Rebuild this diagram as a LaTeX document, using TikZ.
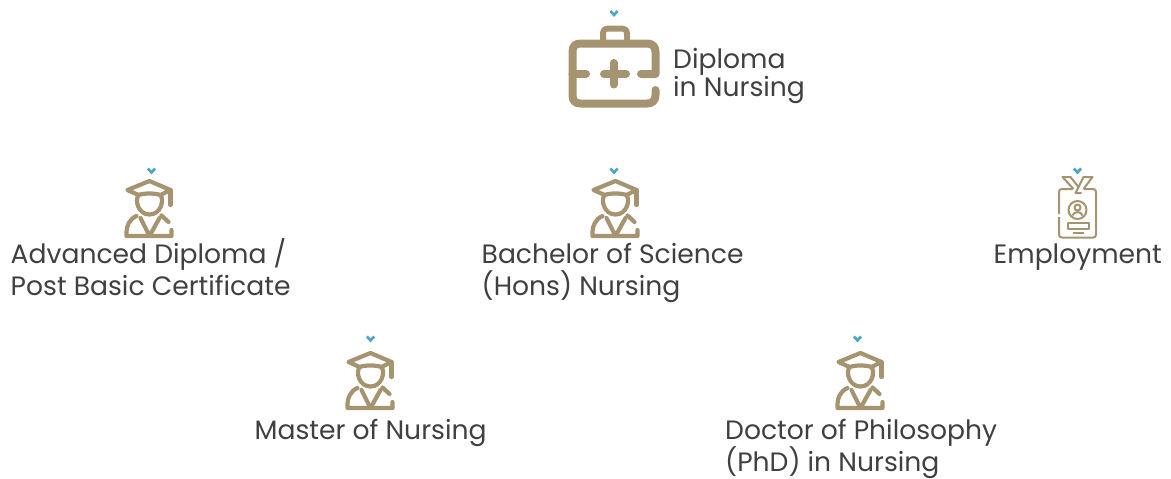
\documentclass[tikz,border=0pt]{standalone}
\usepackage{fontspec}
\setmainfont{Poppins}
\usepackage{xcolor}
\definecolor{icontan}{HTML}{A69470}
\definecolor{tickblue}{HTML}{4BA6C6}
\definecolor{ink}{HTML}{404040}
\usetikzlibrary{positioning}
\tikzset{
    caption/.style={text=ink, font=\fontsize{26.6}{32}\selectfont, align=left, inner sep=0pt, anchor=north west},
    tightcaption/.style={caption, font=\fontsize{26.6}{25}\selectfont},
    tickmark/.pic={\draw[tickblue, line width=2.6pt, line cap=butt, line join=miter] (-3.6,-3) -- (0,1) -- (3.6,-3);},
    grad/.pic={
        \begin{scope}[icontan, line width=4.2pt, line cap=round, line join=round]
            % Cap
            \draw (-11,15) -- (-22,10) -- (0,1) -- (21,10) -- (11,15);
            \draw (-11,15) .. controls (-5,13) and (5,13) .. (11,15);
            \draw (21,10) -- (21,25);
            % Head
            \draw (-11,15) .. controls (-15,21) and (-11,34.5) .. (0,34.5) .. controls (11,34.5) and (15,21) .. (11,15);
            % Body
            \draw (-13,36) .. controls (-20,39) and (-23,46) .. (-23,52) -- (-23,56) -- (22,56) -- (22,50);
            \draw (12,35.5) -- (19,42);
            \draw (-9,38) -- (0,56) -- (10,38);
        \end{scope}
    },
    badge/.pic={
        \begin{scope}[icontan, line width=2pt, line cap=butt, line join=round]
            % Lanyard
            \draw (-4,2) -- (-15,-10) -- (-7,-10) -- (1,0);
            \draw (6,2) -- (15,-10) -- (6,-10) -- (-2,6) -- (4,6);
            % Card
            \draw (-18.5,27) -- (-18.5,5) .. controls (-18.5,3) and (-17.5,2) .. (-15.5,2) -- (-5,2);
            \draw (6,2) -- (15.5,2) .. controls (17.5,2) and (18.5,3) .. (18.5,5) -- (18.5,47.5)
                .. controls (18.5,49.5) and (17.5,50.5) .. (15.5,50.5) -- (-15.5,50.5)
                .. controls (-17.5,50.5) and (-18.5,49.5) .. (-18.5,47.5) -- (-18.5,30);
            % Photo
            \draw (0,23) circle (9);
            \draw (0,20.5) circle (3);
            \draw (-5,28.5) .. controls (-4,24) and (4,24) .. (5,28.5);
            % Bars
            \draw (-10,35.5) rectangle (11,41.5);
            \draw (-5,45.5) -- (6,45.5);
        \end{scope}
    }
}
\begin{document}
\begin{tikzpicture}[x=1pt, y=-1pt]
    \useasboundingbox (0,0) rectangle (1171,479);

    % Briefcase
    \begin{scope}[icontan, line width=8pt, line cap=round, line join=round]
        \draw (641,74) -- (655.5,74) -- (655.5,52) .. controls (655.5,46) and (652,43.5) .. (647,43.5)
            -- (581,43.5) .. controls (575,43.5) and (572.5,46) .. (572.5,52)
            -- (572.5,95) .. controls (572.5,101) and (575,103.5) .. (581,103.5)
            -- (647,103.5) .. controls (652,103.5) and (655.5,101) .. (655.5,95) -- (655.5,90);
        \draw (572.5,74) -- (586,74);
        \draw (604,74) -- (626,74);
        \draw (613.5,63) -- (613.5,84.5);
    \end{scope}
    \draw[icontan, line width=6pt, line cap=round, line join=round] (603,41) -- (603,34)
        .. controls (603,30) and (605,28.5) .. (609,28.5) -- (621,28.5)
        .. controls (625,28.5) and (627,30) .. (627,34) -- (627,41);

    % Ticks
    \foreach \x/\y in {614/14, 151.5/171.5, 614/171.5, 1077.5/171.5, 370.5/339.5, 857.5/339.5}
        \pic at (\x,\y) {tickmark};

    % Icons
    \foreach \x/\y in {149.5/180, 615.5/180, 370.5/352, 860.5/352}
        \pic at (\x,\y) {grad};
    \pic at (1077.5,187) {badge};

    % Labels
    \node[tightcaption] (diploma) at (673,48) {Diploma\\in Nursing};
    \node[caption] (advanced) at (10.5,238.2) {Advanced Diploma /\\Post Basic Certificate};
    \node[caption] (bachelor) at (481.5,242.7) {Bachelor of Science\\(Hons) Nursing};
    \node[caption] (employment) at (993.5,243.5) {Employment};
    \node[caption] (master) at (254.5,419) {Master of Nursing};
    \node[caption] (doctor) at (725,419) {Doctor of Philosophy\\(PhD) in Nursing};
\end{tikzpicture}
\end{document}
